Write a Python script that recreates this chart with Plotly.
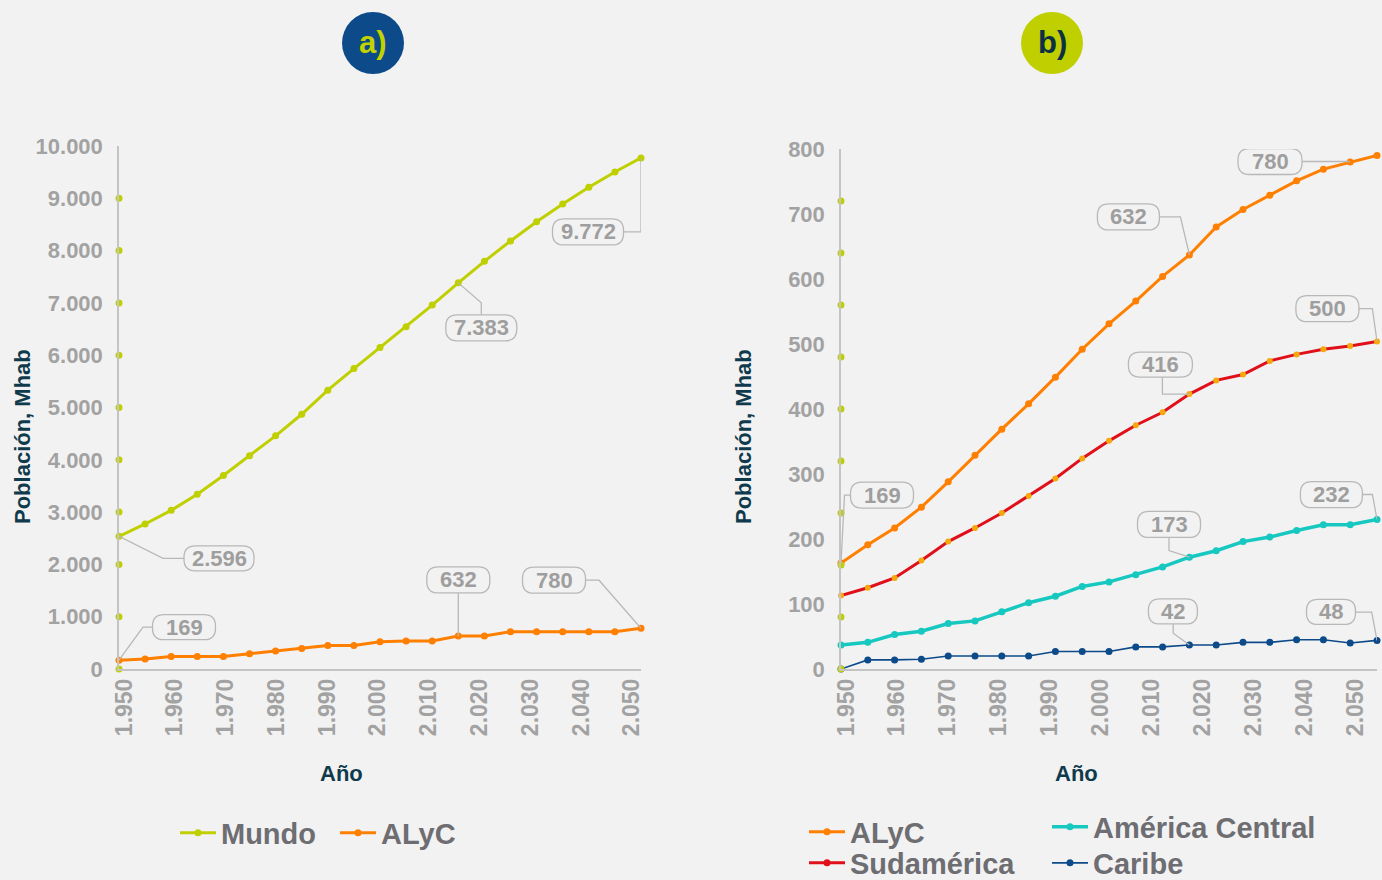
import plotly.graph_objects as go

# ---------------- data ----------------
years = [1950, 1955, 1960, 1965, 1970, 1975, 1980, 1985, 1990, 1995, 2000,
         2005, 2010, 2015, 2020, 2025, 2030, 2035, 2040, 2045, 2050]
year_ticks = [1950, 1960, 1970, 1980, 1990, 2000, 2010, 2020, 2030, 2040, 2050]

mundo = [2536, 2773, 3033, 3340, 3701, 4079, 4458, 4871, 5331, 5744, 6145,
         6542, 6958, 7383, 7795, 8184, 8551, 8893, 9210, 9504, 9772]
alyc_a = [169, 191, 241, 241, 241, 292, 343, 394, 451, 451, 521,
          534, 534, 632, 632, 712, 712, 712, 712, 712, 780]

alyc_b = [163, 191, 217, 249, 288, 329, 369, 408, 449, 492, 531,
          566, 604, 637, 680, 707, 729, 751, 769, 780, 790]
sudamerica = [113, 125, 140, 167, 196, 217, 240, 266, 293, 324, 351,
              375, 395, 423, 444, 453, 474, 484, 492, 497, 504]
america_central = [37, 41, 53, 58, 70, 74, 88, 102, 112, 127, 134,
                   145, 157, 172, 182, 196, 203, 213, 222, 222, 230]
caribe = [0, 14, 14, 15, 20, 20, 20, 20, 27, 27, 27,
          34, 34, 37, 37, 41, 41, 45, 45, 40, 44]

# stray dots drawn on the y axes in the original
axis_dots_a = [0, 1000, 2000, 3000, 4000, 5000, 6000, 7000, 8000, 9000]
axis_dots_b = [0, 80, 160, 240, 320, 400, 480, 560, 640, 720]

# callout labels: (text, series, year)
callouts_a = [("2.596", "mundo", 1950), ("7.383", "mundo", 2015), ("9.772", "mundo", 2050),
              ("169", "alyc_a", 1950), ("632", "alyc_a", 2015), ("780", "alyc_a", 2050)]
callouts_b = [("169", "alyc_b", 1950), ("632", "alyc_b", 2015), ("780", "alyc_b", 2050),
              ("416", "sudamerica", 2015), ("500", "sudamerica", 2050),
              ("173", "america_central", 2015), ("232", "america_central", 2050),
              ("42", "caribe", 2015), ("48", "caribe", 2050)]

series = {"mundo": mundo, "alyc_a": alyc_a, "alyc_b": alyc_b, "sudamerica": sudamerica,
          "america_central": america_central, "caribe": caribe}

# ---------------- styles ----------------
W, H = 1382, 880
BG = "#f2f2f2"
FONT = "Liberation Sans, Arial, sans-serif"
C_MUNDO = "#bfcf00"
C_ALYC = "#ff7f00"
C_SUD = "#e0101a"
C_SUD_MK = "#f7a80c"
C_CEN = "#16c8c0"
C_CAR = "#0c4a8a"
TICK_C = "#a2a2a2"
TITLE_C = "#0f3a4c"
LEG_C = "#6d6d72"
AXIS_C = "#c4c4c4"
CALL_C = "#b8b8b8"
CALL_T = "#9e9e9e"

def px(v, total):
    return v / total

# plot areas in pixels
A_X0, A_X1, A_Y0, A_Y1 = 119, 641, 146, 669
B_X0, B_X1, B_Y0, B_Y1 = 841, 1377, 149, 669

fig = go.Figure()

def line(x, y, name, color, width, xa, ya, legend, mk_color=None, mk_size=7, showlegend=True):
    fig.add_trace(go.Scatter(
        x=x, y=y, name=name, mode="lines+markers", xaxis=xa, yaxis=ya,
        line=dict(color=color, width=width),
        marker=dict(color=mk_color or color, size=mk_size),
        legend=legend, showlegend=showlegend, cliponaxis=False, hoverinfo="skip"))

# chart a
line(years, mundo, "Mundo", C_MUNDO, 3, "x", "y", "legend")
line(years, alyc_a, "ALyC", C_ALYC, 3, "x", "y", "legend2")
fig.add_trace(go.Scatter(x=[years[0]] * len(axis_dots_a), y=axis_dots_a, mode="markers",
                         xaxis="x", yaxis="y", marker=dict(color=C_MUNDO, size=7),
                         showlegend=False, cliponaxis=False, hoverinfo="skip"))
# chart b
line(years, alyc_b, "ALyC", C_ALYC, 3, "x2", "y2", "legend3")
line(years, sudamerica, "Sudamérica", C_SUD, 3, "x2", "y2", "legend4",
     mk_color=C_SUD_MK, mk_size=6, showlegend=False)
fig.add_trace(go.Scatter(x=[None], y=[None], name="Sudamérica", mode="lines+markers",
                         xaxis="x2", yaxis="y2", line=dict(color=C_SUD, width=3),
                         marker=dict(color=C_SUD, size=7), legend="legend4"))
line(years, america_central, "América Central", C_CEN, 3.5, "x2", "y2", "legend5")
line(years, caribe, "Caribe", C_CAR, 1.6, "x2", "y2", "legend6")
fig.add_trace(go.Scatter(x=[years[0]] * len(axis_dots_b), y=axis_dots_b, mode="markers",
                         xaxis="x2", yaxis="y2", marker=dict(color=C_MUNDO, size=7),
                         showlegend=False, cliponaxis=False, hoverinfo="skip"))
# empty traces for the label axes
fig.add_trace(go.Scatter(x=[None], y=[None], xaxis="x3", yaxis="y", showlegend=False, hoverinfo="skip"))
fig.add_trace(go.Scatter(x=[None], y=[None], xaxis="x4", yaxis="y2", showlegend=False, hoverinfo="skip"))

tickfont = dict(family=FONT, size=22, color=TICK_C, weight="bold")
xtickfont = dict(family=FONT, size=23, color=TICK_C, weight="bold")

def xdata(x0, x1):
    return dict(domain=[px(x0, W), px(x1, W)], range=[1950, 2050], showticklabels=False,
                ticks="", showgrid=False, zeroline=False, showline=True, linecolor=AXIS_C,
                linewidth=1.5, fixedrange=True)

def xlabels(x0, x1, lo, hi, over, anchor):
    return dict(domain=[px(x0, W), px(x1, W)], range=[lo, hi], overlaying=over, anchor=anchor,
                tickvals=year_ticks, tickformat=",", tickangle=-90, tickfont=xtickfont,
                ticks="", showgrid=False, zeroline=False, showline=False,
                ticklabelstandoff=4, fixedrange=True)

def ydata(y0, y1, rng, dtick):
    return dict(domain=[1 - px(y1, H), 1 - px(y0, H)], range=rng, dtick=dtick, tickformat=",",
                tickfont=tickfont, ticks="", showgrid=False, zeroline=False, showline=True,
                linecolor=AXIS_C, linewidth=1.5, ticklabelstandoff=10, fixedrange=True)

fig.update_layout(
    width=W, height=H, margin=dict(l=0, r=0, t=0, b=0, autoexpand=False),
    paper_bgcolor=BG, plot_bgcolor=BG, separators=",.", hovermode=False,
    xaxis=xdata(A_X0, A_X1),
    xaxis2=dict(xdata(B_X0, B_X1), anchor="y2"),
    xaxis3=xlabels(A_X0, A_X1, 1949.0, 2051.8, "x", "y"),
    xaxis4=xlabels(B_X0, B_X1, 1949.0, 2054.3, "x2", "y2"),
    yaxis=ydata(A_Y0, A_Y1, [0, 10000], 1000),
    yaxis2=dict(ydata(B_Y0, B_Y1, [0, 800], 100), anchor="x2"),
)
fig.layout.yaxis.anchor = "x"

# legends (one per entry so they sit exactly)
legfont = dict(family=FONT, size=29, color=LEG_C, weight="bold")
def leg(x, y):
    return dict(x=px(x, W), y=1 - px(y, H), xanchor="left", yanchor="middle",
                orientation="h", font=legfont, bgcolor="rgba(0,0,0,0)", borderwidth=0,
                itemwidth=36)
fig.update_layout(legend=leg(175, 833), legend2=leg(335, 833), legend3=leg(804, 832),
                  legend4=leg(804, 863), legend5=leg(1047, 827), legend6=leg(1047, 863))

# badges
for cx, fill, txt, tcol in [(373, "#0c4a8a", "a)", "#c2d100"), (1052, "#bfcf00", "b)", "#0d3045")]:
    fig.add_shape(type="circle", xref="paper", yref="paper",
                  x0=px(cx - 31, W), x1=px(cx + 31, W), y0=1 - px(74, H), y1=1 - px(12, H),
                  fillcolor=fill, line=dict(width=0))
    fig.add_annotation(xref="paper", yref="paper", x=px(cx, W), y=1 - px(43, H), text=txt,
                       xanchor="center", yanchor="middle", showarrow=False,
                       font=dict(family=FONT, size=31, color=tcol, weight="bold"))

# axis titles
ttl = dict(family=FONT, size=22, color=TITLE_C, weight="bold")
for x, y, t, ang in [(22, 437, "Población, Mhab", -90), (743, 437, "Población, Mhab", -90),
                     (341, 773, "Año", 0), (1076, 773, "Año", 0)]:
    fig.add_annotation(xref="paper", yref="paper", x=px(x, W), y=1 - px(y, H), text=t,
                       xanchor="center", yanchor="middle",
                       textangle=ang, showarrow=False, font=ttl)

# callout geometry (pixel offsets from the point, y down): leader points, box centre, box size
geom_a = {
    "2.596": ([(0, 0), (44, 22), (65, 22)], (100, 22), (70, 25)),
    "7.383": ([(0, 0), (23, 20), (23, 32)], (23, 45), (71, 26)),
    "9.772": ([(0, 0), (0, 74), (-17, 74)], (-53, 74), (71, 26)),
    "169": ([(0, 0), (24, -33), (33, -33)], (65, -33), (63, 25)),
    "632": ([(0, 0), (0, -43)], (0, -56), (63, 26)),
    "780": ([(0, 0), (-42, -48), (-55, -48)], (-87, -48), (63, 26)),
}
geom_b = {
    "169": ([(0, 0), (3.5, -68), (9.5, -68)], (41, -68), (63, 26)),
    "632": ([(0, 0), (-9, -38), (-30, -38)], (-61, -38), (62, 26)),
    "780": ([(-27, 6), (-75, 6)], (-107, 6), (64, 26)),
    "416": ([(0, 0), (-27, 0), (-27, -17)], (-29, -29.5), (64, 25)),
    "500": ([(0, 0), (-4.6, -32.7), (-18, -32.7)], (-49.6, -32.7), (63, 26)),
    "173": ([(0, 0), (-20.4, -6.6), (-20.4, -20)], (-20.4, -32.8), (63, 26)),
    "232": ([(0, 0), (-4.6, -25), (-14.3, -25)], (-45.6, -24.8), (62, 26)),
    "42": ([(0, 0), (-16.2, -11.7), (-16.2, -21)], (-16.5, -33.5), (49, 25)),
    "48": ([(0, 0), (-5.3, -28.3), (-21.5, -28.3)], (-46, -28.5), (49, 25)),
}

def fmt(v):
    return f"{v:.2f}"

def rrect(cx, cy, w, h, r):
    l, rgt, t, b = cx - w / 2, cx + w / 2, cy - h / 2, cy + h / 2
    pts = [("M", (l + r, t)), ("L", (rgt - r, t)), ("Q", (rgt, t, rgt, t + r)),
           ("L", (rgt, b - r)), ("Q", (rgt, b, rgt - r, b)), ("L", (l + r, b)),
           ("Q", (l, b, l, b - r)), ("L", (l, t + r)), ("Q", (l, t, l + r, t))]
    s = ""
    for cmd, c in pts:
        coords = []
        for i in range(0, len(c), 2):
            coords.append(f"{fmt(c[i])},{fmt(-c[i + 1])}")
        s += cmd + " " + " ".join(coords) + " "
    return s + "Z"

def add_callouts(items, geom, xref, yref):
    for text, key, yr in items:
        val = series[key][years.index(yr)]
        pts, (cx, cy), (bw, bh) = geom[text]
        path = "M " + " L ".join(f"{fmt(x)},{fmt(-y)}" for x, y in pts)
        common = dict(xref=xref, yref=yref, xsizemode="pixel", ysizemode="pixel",
                      xanchor=yr, yanchor=val, layer="above")
        fig.add_shape(type="path", path=path, line=dict(color=CALL_C, width=1.3), **common)
        fig.add_shape(type="path", path=rrect(cx, cy, bw, bh, 11.5),
                      line=dict(color=CALL_C, width=1.3), fillcolor=BG, **common)
        fig.add_annotation(xref=xref, yref=yref, x=yr, y=val, xshift=cx, yshift=-cy,
                           xanchor="center", yanchor="middle",
                           text=text, showarrow=False,
                           font=dict(family=FONT, size=22, color=CALL_T, weight="bold"))

add_callouts(callouts_a, geom_a, "x", "y")
add_callouts(callouts_b, geom_b, "x2", "y2")

fig.write_html("out.html")
